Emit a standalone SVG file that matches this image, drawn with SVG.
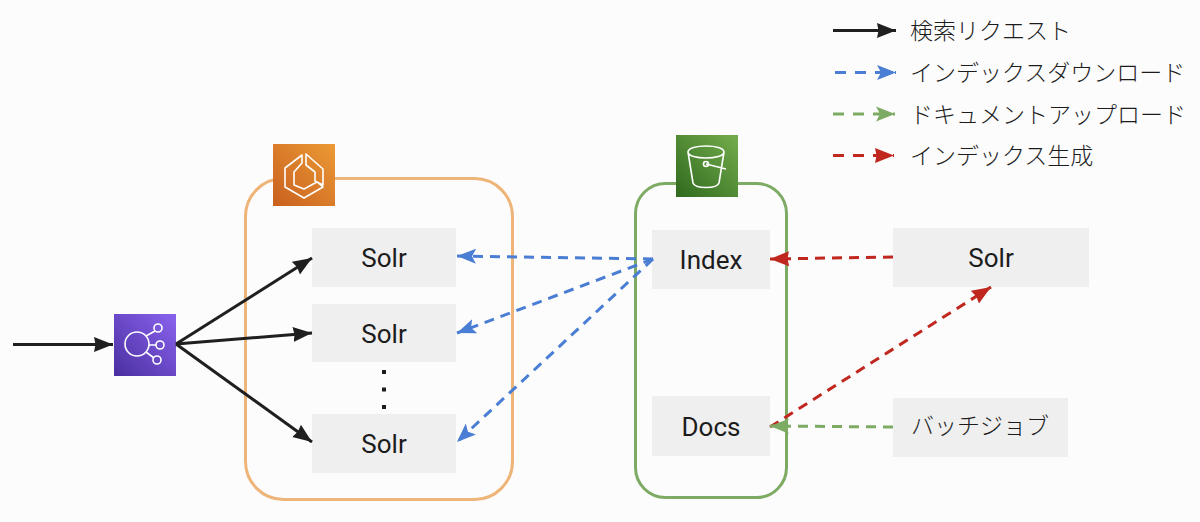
<svg xmlns="http://www.w3.org/2000/svg" width="1200" height="522" viewBox="0 0 1200 522">
<style>
text{font-family:"Roboto","Noto Sans CJK JP",sans-serif;font-size:26px;fill:#1c1c1c;text-anchor:middle;dominant-baseline:central}
.jp{font-family:"Noto Sans CJK JP",sans-serif;font-size:23px;font-weight:300}
.leg{text-anchor:start}
.box{fill:#efefef}
.c{fill:none;stroke-width:3}
.k{stroke:#1f1f1f}
.b{stroke:#4a7dd4;stroke-dasharray:10 7}
.g{stroke:#7dab63;stroke-dasharray:10 7}
.r{stroke:#c0271f;stroke-dasharray:10 7}
.i{fill:none;stroke:#fff;stroke-width:1.6;stroke-linejoin:round}
</style>
<defs>
<marker id="mk" markerUnits="userSpaceOnUse" markerWidth="20" markerHeight="16" refX="19" refY="8" orient="auto"><path d="M0 0.500L19 8L0 15.500L1.500 8Z" fill="#1f1f1f"/></marker>
<marker id="mb" markerUnits="userSpaceOnUse" markerWidth="20" markerHeight="16" refX="19" refY="8" orient="auto"><path d="M0 0.500L19 8L0 15.500L4 8Z" fill="#4a7dd4"/></marker>
<marker id="mg" markerUnits="userSpaceOnUse" markerWidth="20" markerHeight="16" refX="19" refY="8" orient="auto"><path d="M0 0.500L19 8L0 15.500L4 8Z" fill="#7dab63"/></marker>
<marker id="mr" markerUnits="userSpaceOnUse" markerWidth="20" markerHeight="16" refX="19" refY="8" orient="auto"><path d="M0 0.500L19 8L0 15.500L1.500 8Z" fill="#c0271f"/></marker>
<linearGradient id="go" x1="0" y1="1" x2="1" y2="0"><stop offset="0" stop-color="#c8601f"/><stop offset="1" stop-color="#ec9a35"/></linearGradient>
<linearGradient id="gg" x1="0" y1="1" x2="1" y2="0"><stop offset="0" stop-color="#2f6a1e"/><stop offset="1" stop-color="#74ad4c"/></linearGradient>
<linearGradient id="gp" x1="0" y1="1" x2="1" y2="0"><stop offset="0" stop-color="#4a2fa0"/><stop offset="1" stop-color="#8a63ee"/></linearGradient>
</defs>
<rect width="1200" height="522" fill="#fcfcfc"/>
<rect id="ecs-cluster" x="245.500" y="178.500" width="267" height="321" rx="38" fill="none" stroke="#eeb478" stroke-width="3"/>
<rect id="s3-bucket" x="635.500" y="183.500" width="151" height="314" rx="30" fill="none" stroke="#7dab63" stroke-width="3"/>
<g id="ecs-icon">
<rect x="273" y="144" width="62" height="62" fill="url(#go)"/>
<path class="i" d="M302 155L285 168V187L304 198L323 187L317 182L304 189L294 185V172L302 163ZM306 154V165L315 172V181L323 185V169Z"/>
</g>
<g id="s3-icon">
<rect x="676" y="135" width="62" height="62" fill="url(#gg)"/>
<path class="i" d="M688 152C688 144 724 144 724 152C724 160 688 160 688 152ZM688 152L693 183C695 189 717 189 719 183L724 152M706 164L726 169"/>
<circle class="i" cx="706" cy="164" r="2.500"/>
</g>
<g id="elb-icon">
<rect x="114" y="314" width="62" height="62" fill="url(#gp)"/>
<circle class="i" cx="137" cy="344" r="12"/>
<circle class="i" cx="158" cy="328" r="4"/><circle class="i" cx="160" cy="345" r="4"/><circle class="i" cx="157" cy="360" r="4"/>
<path class="i" d="M146 336L155 331M149 345H156M146 352L154 358"/>
</g>
<g id="solr1"><rect class="box" x="312" y="228" width="144" height="59"/><text x="384" y="258">Solr</text></g>
<g id="solr2"><rect class="box" x="312" y="304" width="144" height="58"/><text x="384" y="334">Solr</text></g>
<path id="dots" d="M384 370V410" fill="none" stroke="#1c1c1c" stroke-width="4" stroke-dasharray="4 13.500"/>
<g id="solr3"><rect class="box" x="312" y="414" width="144" height="59"/><text x="384" y="444">Solr</text></g>
<g id="index"><rect class="box" x="652" y="230" width="118" height="59"/><text x="711" y="260">Index</text></g>
<g id="docs"><rect class="box" x="652" y="396" width="118" height="60"/><text x="711" y="427">Docs</text></g>
<g id="solr4"><rect class="box" x="893" y="228" width="196" height="59"/><text x="991" y="258">Solr</text></g>
<g id="batch"><rect class="box" x="893" y="398" width="175" height="59"/><text class="jp" x="980" y="424">バッチジョブ</text></g>
<g id="connectors">
<path class="c k" marker-end="url(#mk)" d="M13 344.500H113"/>
<path class="c k" marker-end="url(#mk)" d="M176 344L312 258"/>
<path class="c k" marker-end="url(#mk)" d="M176 344L312 333"/>
<path class="c k" marker-end="url(#mk)" d="M176 344L312 442"/>
<path class="c b" marker-end="url(#mb)" d="M653 259L457 256"/>
<path class="c b" marker-end="url(#mb)" d="M653 259L457 333"/>
<path class="c b" marker-end="url(#mb)" d="M653 259L457 442"/>
<path class="c r" marker-end="url(#mr)" d="M893 257L770 259"/>
<path class="c r" marker-end="url(#mr)" d="M770 427L991 287"/>
<path class="c g" marker-end="url(#mg)" d="M893 427L770 426"/>
<path class="c k" marker-end="url(#mk)" d="M833 30.500H896"/>
<path class="c b" style="stroke-dasharray:11 9" marker-end="url(#mb)" d="M835 72.500H896"/>
<path class="c g" style="stroke-dasharray:11 9" marker-end="url(#mg)" d="M833 114H895"/>
<path class="c r" style="stroke-dasharray:11 9" marker-end="url(#mr)" d="M833 155.500H894"/>
</g>
<g id="legend">
<text class="jp leg" x="910" y="29">検索リクエスト</text>
<text class="jp leg" x="910" y="71">インデックスダウンロード</text>
<text class="jp leg" x="910" y="113">ドキュメントアップロード</text>
<text class="jp leg" x="910" y="154">インデックス生成</text>
</g>
</svg>
